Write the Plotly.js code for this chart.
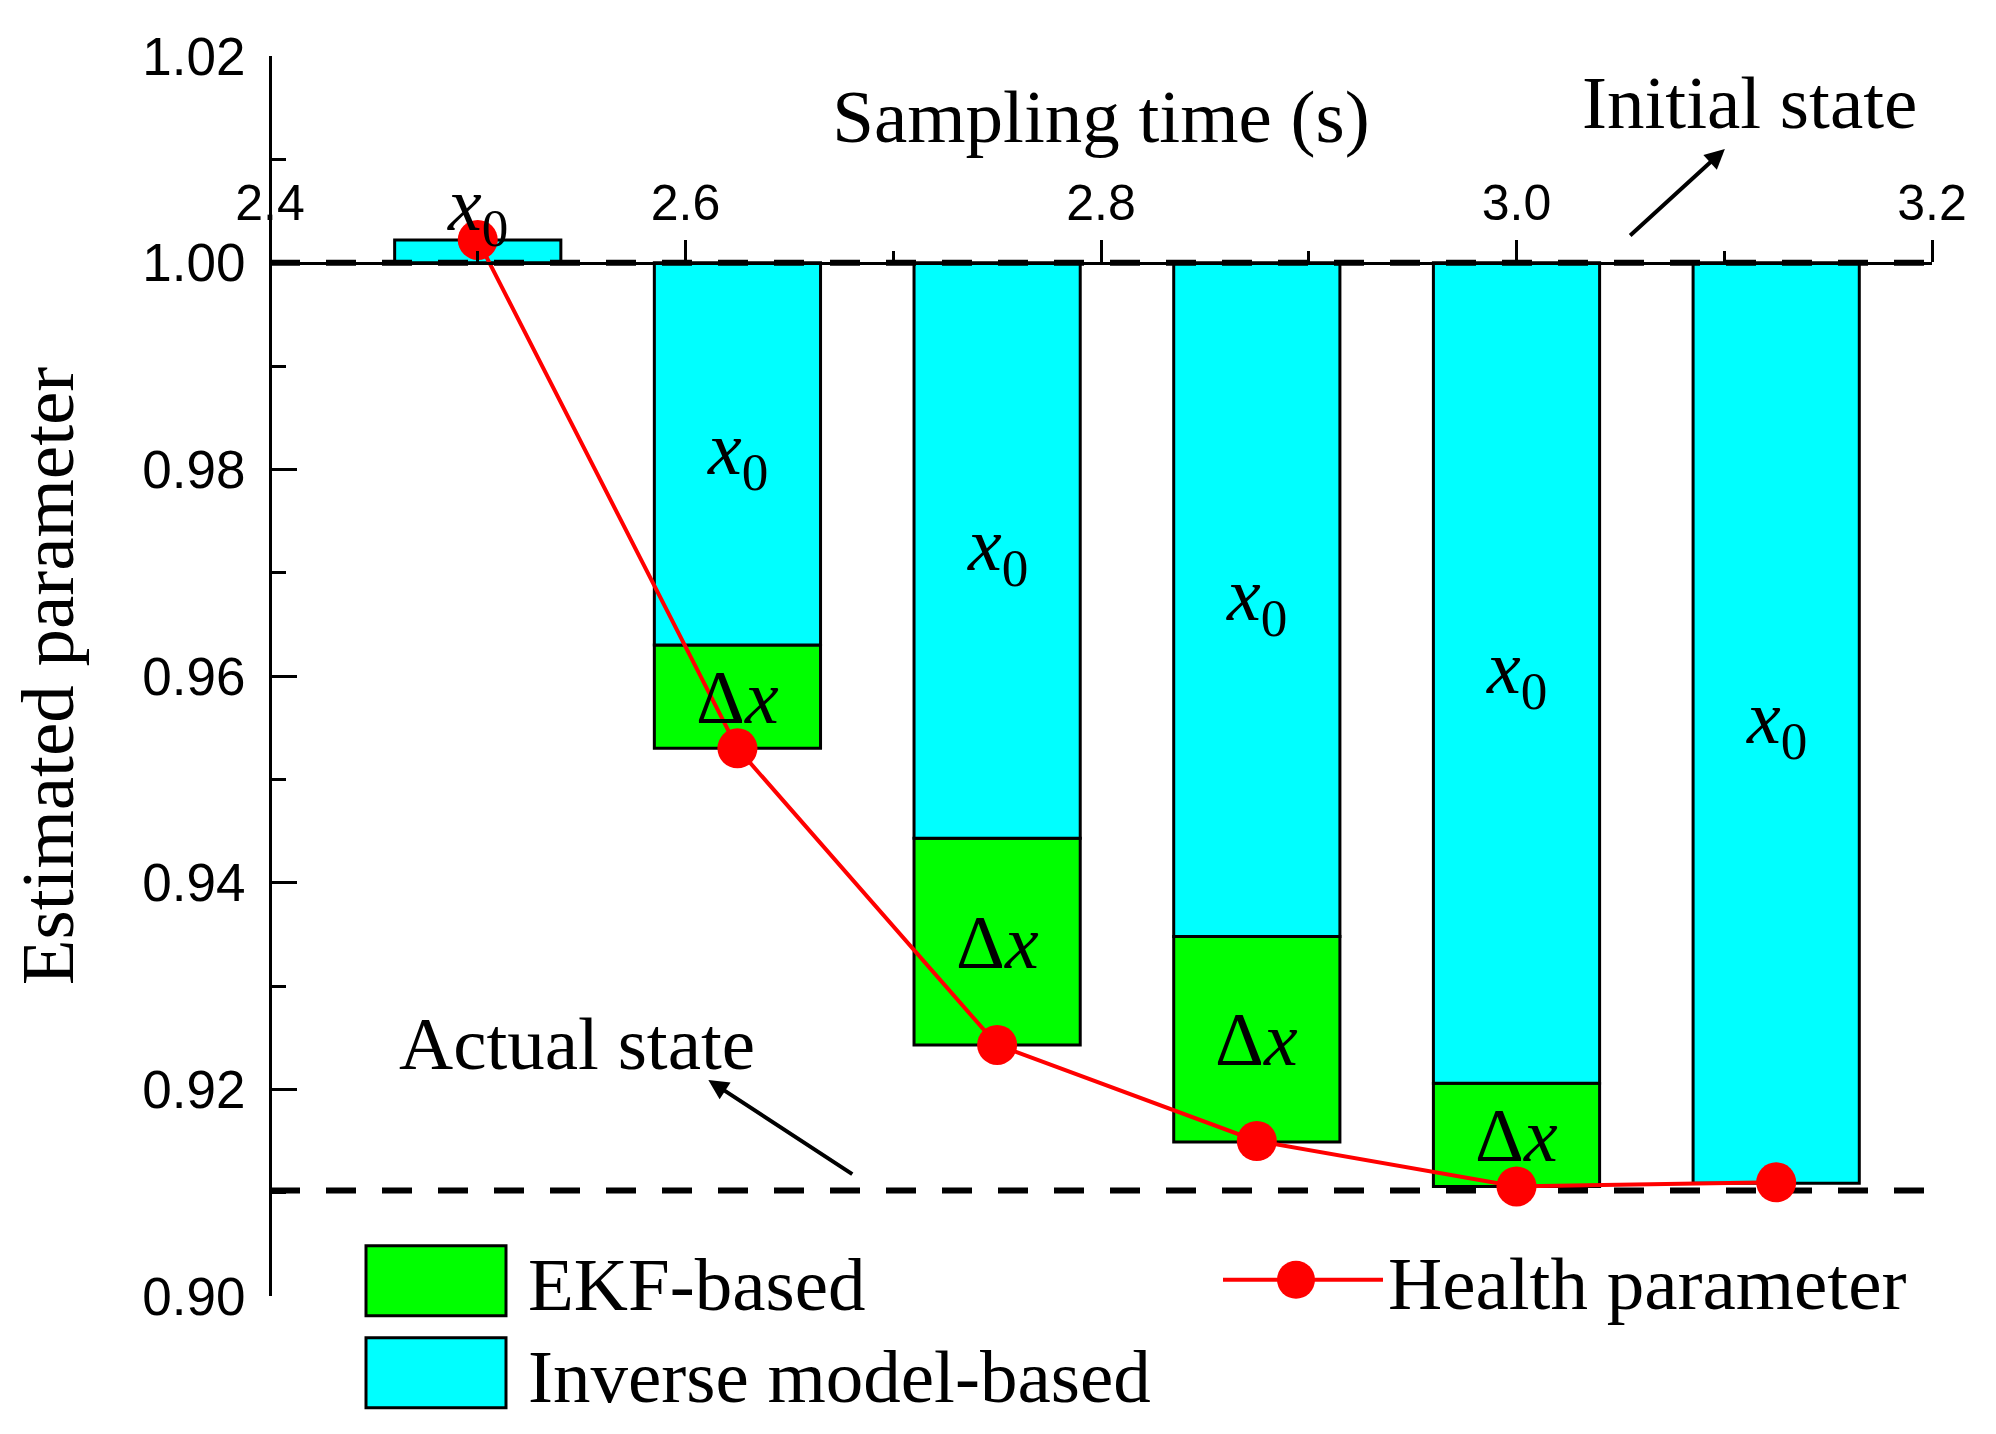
<!DOCTYPE html>
<html><head><meta charset="utf-8">
<script src="https://cdn.plot.ly/plotly-3.0.1.min.js"></script>
<style>html,body{margin:0;padding:0;background:#fff}</style>
</head><body>
<div id="chart" style="width:1996px;height:1434px"></div>
<script>
// ---- data ----
const samplingTimes = [2.5, 2.625, 2.75, 2.875, 3.0, 3.125];
const inverseModelBased = [1.0022, 0.963, 0.9443, 0.9348, 0.9206, 0.9109];
const ekfBased = [null, 0.953, 0.9243, 0.9149, 0.9106, null];
const healthParameter = [1.0022, 0.953, 0.9243, 0.915, 0.9106, 0.911];
const initialState = 1.00;
const actualState = 0.9102;
const xRange = [2.4, 3.2];
const yRange = [0.90, 1.02];
const xTickVals = [2.4, 2.6, 2.8, 3.0, 3.2];
const xTickText = ['2.4', '2.6', '2.8', '3.0', '3.2'];
const yTickVals = [0.90, 0.92, 0.94, 0.96, 0.98, 1.00, 1.02];
const yTickText = ['0.90', '0.92', '0.94', '0.96', '0.98', '1.00', '1.02'];

const SERIF = 'Liberation Serif, Times New Roman, serif';
const SANS = 'Liberation Sans, Arial, sans-serif';
const BAR_W = 0.08;

// plot geometry (pixels in a 1996x1434 page)
const M = {l: 270, r: 64, t: 56, b: 0};
const plotBottomPx = 1296;               // where y = 0.90 sits
const paperH = 1434 - M.t - M.b;
const yDom0 = (1434 - M.b - plotBottomPx) / paperH;
const xAxisPos = yDom0 + (1 - yDom0) * (initialState - yRange[0]) / (yRange[1] - yRange[0]);
const pyPaper = px => (1434 - M.b - px) / paperH;
const pxPaper = px => (px - M.l) / (1996 - M.l - M.r);

// bar segments (drawn from the reference level down/up to the estimates)
const cyanTrace = {
  type: 'bar', name: 'Inverse model-based', legend: 'legend3',
  x: samplingTimes,
  base: samplingTimes.map(() => initialState),
  y: inverseModelBased.map(v => v - initialState),
  width: BAR_W,
  marker: {color: '#00FFFF', line: {color: '#000', width: 3}},
  hoverinfo: 'skip'
};
const greenTrace = {
  type: 'bar', name: 'EKF-based', legend: 'legend',
  x: samplingTimes,
  base: inverseModelBased,
  y: ekfBased.map((v, i) => v === null ? null : v - inverseModelBased[i]),
  width: BAR_W,
  marker: {color: '#00FF00', line: {color: '#000', width: 3}},
  hoverinfo: 'skip'
};
const initLine = {
  type: 'scatter', mode: 'lines', x: xRange, y: [initialState, initialState],
  line: {color: '#000', width: 6, dash: '30px,26px'}, showlegend: false, hoverinfo: 'skip'
};
const actualLine = {
  type: 'scatter', mode: 'lines', x: xRange, y: [actualState, actualState],
  line: {color: '#000', width: 6, dash: '30px,26px'}, showlegend: false, hoverinfo: 'skip'
};
const healthTrace = {
  type: 'scatter', mode: 'lines+markers', name: 'Health parameter', legend: 'legend2',
  x: samplingTimes, y: healthParameter,
  line: {color: '#FF0000', width: 4},
  marker: {color: '#FF0000', size: 40},
  hoverinfo: 'skip'
};

// labels inside the segments
const annotations = [];
const lblFont = {family: SERIF, size: 76, color: '#000'};
samplingTimes.forEach((t, i) => {
  const top = initialState, bot = inverseModelBased[i];
  if (bot > top) {
    annotations.push({x: t, y: bot, xref: 'x', yref: 'y', text: '<i>x</i><sub>0</sub>',
      showarrow: false, font: lblFont, yanchor: 'bottom', yshift: -20});
  } else {
    annotations.push({x: t, y: (top + bot) / 2, xref: 'x', yref: 'y', text: '<i>x</i><sub>0</sub>',
      showarrow: false, font: lblFont});
  }
  if (ekfBased[i] !== null) {
    annotations.push({x: t, y: (bot + ekfBased[i]) / 2, xref: 'x', yref: 'y', text: 'Δ<i>x</i>',
      showarrow: false, font: lblFont});
  }
});
annotations.push(
  {x: 3.112, y: 1.0155, xref: 'x', yref: 'y', text: 'Initial state', showarrow: false,
   font: {family: SERIF, size: 75, color: '#000'}},
  {x: 3.1003, y: 1.0110, ax: 3.054, ay: 1.0025, xref: 'x', yref: 'y', axref: 'x', ayref: 'y',
   text: '', showarrow: true, arrowhead: 2, arrowsize: 1, arrowwidth: 4, arrowcolor: '#000'},
  {x: 2.548, y: 0.9244, xref: 'x', yref: 'y', text: 'Actual state', showarrow: false,
   font: {family: SERIF, size: 75, color: '#000'}},
  {x: 2.611, y: 0.9209, ax: 2.681, ay: 0.9117, xref: 'x', yref: 'y', axref: 'x', ayref: 'y',
   text: '', showarrow: true, arrowhead: 2, arrowsize: 1, arrowwidth: 4, arrowcolor: '#000'}
);

const legendFont = {family: SERIF, size: 75, color: '#000'};
const legendBase = {xanchor: 'left', yanchor: 'middle', bgcolor: 'rgba(0,0,0,0)',
  font: legendFont, itemwidth: 160};

const layout = {
  width: 1996, height: 1434,
  margin: M,
  paper_bgcolor: '#fff', plot_bgcolor: 'rgba(0,0,0,0)',
  barmode: 'overlay',
  showlegend: true,
  xaxis: {
    range: xRange, anchor: 'free', position: xAxisPos,
    side: 'top', showgrid: false, zeroline: false,
    showline: true, linecolor: '#000', linewidth: 3,
    ticks: 'outside', ticklen: 22, tickwidth: 3, tickcolor: '#000',
    tickvals: xTickVals, ticktext: xTickText,
    minor: {dtick: 0.1, tick0: 2.4, ticks: 'outside', ticklen: 11, tickwidth: 3, tickcolor: '#000'},
    tickfont: {family: SANS, size: 50, color: '#000'},
    title: {text: 'Sampling time (s)', font: {family: SERIF, size: 75, color: '#000'}, standoff: 6}
  },
  yaxis: {
    range: yRange, domain: [yDom0, 1], anchor: 'free', position: 0,
    showgrid: false, zeroline: false,
    showline: true, linecolor: '#000', linewidth: 3,
    ticks: 'inside', ticklen: 25, tickwidth: 3, tickcolor: '#000',
    tickvals: yTickVals, ticktext: yTickText, ticklabelstandoff: 13,
    minor: {dtick: 0.01, tick0: 0.90, ticks: 'inside', ticklen: 14, tickwidth: 3, tickcolor: '#000'},
    tickfont: {family: SANS, size: 53, color: '#000'},
    title: {text: 'Estimated parameter', font: {family: SERIF, size: 75, color: '#000'}, standoff: 42}
  },
  legend: Object.assign({}, legendBase, {x: pxPaper(358), y: pyPaper(1281)}),
  legend3: Object.assign({}, legendBase, {x: pxPaper(358), y: pyPaper(1373)}),
  legend2: Object.assign({}, legendBase, {x: pxPaper(1218), y: pyPaper(1280)}),
  annotations: annotations
};

Plotly.newPlot('chart', [greenTrace, cyanTrace, initLine, actualLine, healthTrace], layout,
  {displayModeBar: false, responsive: false}).then(gd => {
  // enlarge legend swatches to match the reference
  gd.querySelectorAll('.legendpoints path').forEach(p => {
    const cls = p.getAttribute('class') || '';
    if (cls.indexOf('scatterpts') >= 0) {
      const r = 19;
      p.setAttribute('d', 'M' + r + ',0A' + r + ',' + r + ' 0 1,1 0,-' + r + 'A' + r + ',' + r + ' 0 0,1 ' + r + ',0Z');
      const tr = p.getAttribute('transform') || '';
      const m = tr.match(/translate\(\s*([-\d.]+)[ ,]+([-\d.]+)\s*\)/);
      if (m) p.setAttribute('transform', 'translate(' + (parseFloat(m[1]) - 7) + ',' + m[2] + ')');
    } else if (cls.indexOf('js-line') >= 0) {
      p.style.strokeWidth = '6px';
    } else if (cls.indexOf('legendfill') < 0) {
      p.setAttribute('d', 'M63,35H-77V-35H63Z');
    }
  });
});
</script>
</body></html>
